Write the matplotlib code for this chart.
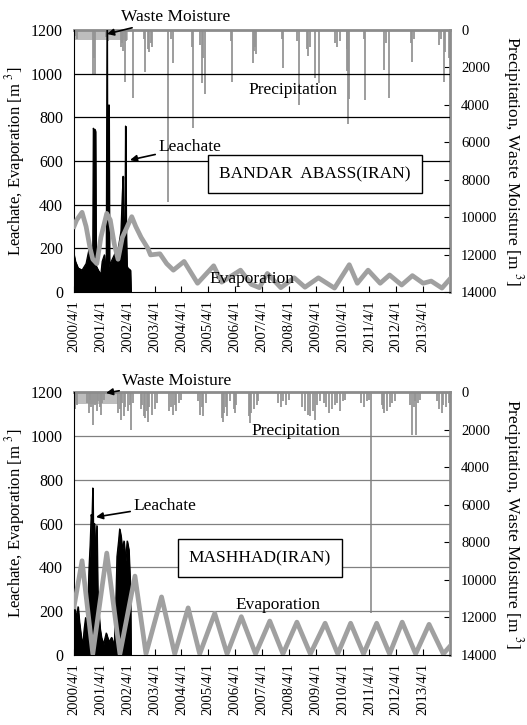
import matplotlib
matplotlib.use("Agg")
import matplotlib.pyplot as plt

plt.rcParams['font.family'] = ['Liberation Serif', 'DejaVu Serif']
plt.rcParams['mathtext.fontset'] = 'stix'

# x values are years after 2000/4/1
tick_labels = ["2000/4/1", "2001/4/1", "2002/4/1", "2003/4/1", "2004/4/1", "2005/4/1",
               "2006/4/1", "2007/4/1", "2008/4/1", "2009/4/1", "2010/4/1", "2011/4/1",
               "2012/4/1", "2013/4/1"]

# ---- Bandar Abass ----
ba_evap_t = [0.0, 0.1, 0.3, 0.45, 0.6, 0.7, 0.85, 1.0, 1.22, 1.35, 1.5, 1.64, 1.8, 2.15, 2.3,
             2.5, 2.75, 2.85, 3.2, 3.45, 3.7, 4.1, 4.4, 4.6, 5.2, 5.5, 6.2, 6.6, 6.9, 7.2, 7.7,
             8.2, 8.6, 9.1, 9.7, 10.25, 10.55, 10.95, 11.4, 11.75, 12.2, 12.6, 13.0, 13.3, 13.7, 14.0]
ba_evap_v = [300, 330, 365, 300, 200, 150, 130, 250, 360, 330, 220, 150, 250, 345, 300,
             250, 200, 170, 175, 130, 100, 140, 80, 40, 120, 45, 100, 35, 20, 85, 20,
             65, 22, 65, 18, 125, 40, 100, 40, 78, 32, 75, 40, 50, 18, 60]

ba_leach_t = [0.0, 0.05, 0.15, 0.3, 0.45, 0.55, 0.65, 0.7, 0.72, 0.74, 0.78, 0.8, 0.82, 0.9,
              1.0, 1.05, 1.13, 1.2, 1.23, 1.25, 1.27, 1.29, 1.3, 1.32, 1.35, 1.5, 1.65, 1.75,
              1.8, 1.83, 1.86, 1.9, 1.92, 1.94, 1.97, 2.0, 2.1, 2.12]
ba_leach_v = [170, 140, 110, 100, 130, 190, 160, 200, 750, 740, 745, 735, 120, 100,
              80, 140, 170, 60, 1215, 60, 100, 120, 857, 140, 130, 170, 200, 280,
              450, 530, 200, 350, 760, 300, 120, 110, 100, 0]

ba_prec_t = [0.05, 0.1, 0.72, 0.76, 0.78, 1.2, 1.28, 1.75, 1.8, 1.83, 1.9, 1.95, 2.2, 2.6, 2.64,
             2.75, 2.8, 2.85, 2.9, 3.5, 3.62, 3.68, 4.4, 4.43, 4.7, 4.76, 4.82, 4.87, 5.85, 5.9,
             6.66, 6.7, 6.74, 6.79, 7.75, 7.78, 8.3, 8.38, 8.66, 8.72, 8.77, 8.96, 9.12, 9.7,
             9.8, 9.9, 10.15, 10.18, 10.2, 10.23, 10.78, 10.82, 11.54, 11.6, 11.72, 12.55, 12.6,
             12.65, 13.6, 13.65, 13.77, 13.8, 13.95]
ba_prec_v = [300, 500, 2350, 1500, 2350, 400, 600, 900, 700, 1100, 2760, 600, 3620, 500, 2220,
             1000, 1200, 700, 900, 9170, 500, 1780, 900, 5240, 800, 2850, 1500, 3440, 600, 2760,
             1780, 1100, 900, 1280, 500, 2030, 600, 4000, 1000, 1400, 900, 2560, 2850, 700,
             900, 600, 1000, 2200, 5000, 3700, 500, 3740, 2140, 700, 3620, 700, 1690,
             500, 800, 500, 2760, 1200, 1500]

ba_moist_end = 2.02
ba_moist_v = 530

# ---- Mashhad ----
ma_evap_t = [0.0, 0.3, 0.7, 1.22, 1.71, 2.27, 2.68, 3.26, 3.75, 4.25, 4.68, 5.24, 5.7, 6.23,
             6.76, 7.29, 7.78, 8.3, 8.8, 9.35, 9.82, 10.3, 10.78, 11.27, 11.75, 12.22, 12.72,
             13.22, 13.75, 14.0]
ma_evap_v = [220, 430, 5, 465, 5, 360, 5, 265, 5, 215, 5, 190, 5, 175,
             5, 155, 5, 150, 5, 145, 5, 145, 5, 145, 5, 150, 5,
             140, 5, 40]

ma_leach_t = [0.0, 0.02, 0.05, 0.1, 0.15, 0.2, 0.27, 0.33, 0.38, 0.43, 0.48, 0.52, 0.56, 0.6,
              0.64, 0.67, 0.7, 0.72, 0.76, 0.8, 0.85, 0.88, 0.92, 0.97, 1.02, 1.1, 1.2, 1.3,
              1.4, 1.5, 1.56, 1.6, 1.66, 1.7, 1.75, 1.8, 1.86, 1.92, 1.98, 2.04, 2.1, 2.12]
ma_leach_v = [150, 250, 200, 170, 220, 150, 80, 50, 120, 170, 100, 250, 400, 500,
              640, 620, 762, 500, 600, 450, 590, 300, 200, 120, 80, 50, 100, 60,
              80, 40, 250, 450, 520, 575, 540, 480, 520, 430, 520, 480, 300, 0]

ma_prec_t = [0.02, 0.05, 0.08, 0.12, 0.5, 0.55, 0.6, 0.65, 0.72, 0.78, 0.85, 0.9, 0.95, 1.0,
             1.05, 1.1, 1.65, 1.7, 1.75, 1.8, 1.85, 1.9, 2.0, 2.08, 2.14, 2.2, 2.5, 2.55, 2.6,
             2.65, 2.7, 2.75, 2.8, 2.9, 3.0, 3.1, 3.55, 3.62, 3.68, 3.75, 3.8, 3.9, 4.0, 4.6,
             4.7, 4.75, 4.8, 4.9, 5.5, 5.55, 5.6, 5.65, 5.7, 5.8, 5.95, 6.0, 6.05, 6.5, 6.55,
             6.6, 6.7, 6.8, 6.85, 7.6, 7.7, 7.8, 7.9, 8.0, 8.5, 8.6, 8.7, 8.8, 8.9, 8.96, 9.05,
             9.15, 9.3, 9.4, 9.5, 9.6, 9.7, 9.8, 9.9, 10.0, 10.1, 10.7, 10.8, 10.9, 11.0, 11.07,
             11.45, 11.5, 11.55, 11.65, 11.75, 11.85, 11.95, 12.5, 12.6, 12.65, 12.7, 12.72,
             12.8, 12.9, 13.5, 13.6, 13.7, 13.75, 13.85, 13.95]
ma_prec_v = [500, 900, 400, 700, 600, 1100, 400, 800, 1760, 700, 1000, 500, 800, 1200,
             600, 400, 1100, 900, 1500, 600, 1300, 800, 1000, 700, 2020, 600, 900, 700, 1300,
             1400, 1000, 1600, 800, 1200, 900, 600, 1000, 800, 1200, 700, 1000, 600, 400, 500,
             1200, 800, 1300, 600, 1400, 1600, 1100, 800, 1300, 500, 900, 1100, 700, 1300, 1650,
             1100, 900, 700, 500, 600, 800, 500, 700, 400, 800, 1000, 1200, 1300, 1000, 1500, 700,
             500, 600, 800, 1100, 900, 700, 600, 1000, 500, 400, 600, 800, 500, 400, 11760,
             700, 900, 1100, 1000, 800, 600, 500, 700, 2290, 800, 500, 2290,
             600, 400, 500, 900, 1100, 700, 800, 600]

ma_moist_end = 1.65
ma_moist_v = 650

W, H = 527, 725
fig = plt.figure(figsize=(W / 100, H / 100), dpi=100)


def panel(top, bottom, evap_t, evap_v, leach_t, leach_v, prec_t, prec_v, moist_end, moist_v,
          grid_color, notes):
    ax = fig.add_axes([74 / W, 1 - bottom / H, (450 - 74) / W, (bottom - top) / H])
    ax2 = ax.twinx()
    ax.set_zorder(ax2.get_zorder() + 1)
    ax.patch.set_visible(False)

    # right axis: precipitation and waste moisture, hanging from the top
    ax2.fill_between([0, moist_end], 0, moist_v, color='#bdbdbd', lw=0)
    ax2.vlines(prec_t, 0, prec_v, color='#959595', lw=1.3)
    ax2.set_ylim(14000, 0)
    ax2.set_yticks(range(0, 14001, 2000))
    ax2.tick_params(axis='y', direction='in', length=4, labelsize=10.5, pad=8)
    ax2.set_ylabel('Precipitation, Waste Moisture [m $^{3}$]', fontsize=12.5, rotation=270,
                   labelpad=20)

    # left axis: leachate and evaporation
    for y in range(200, 1001, 200):
        ax.axhline(y, color=grid_color, lw=0.9, zorder=0)
    ax.fill_between(leach_t, 0, leach_v, color='black', lw=0.8, zorder=2)
    ax.plot(leach_t, leach_v, color='black', lw=0.9, zorder=2)
    ax.plot(evap_t, evap_v, color='#a0a0a0', lw=3.4, zorder=3)
    ax.set_xlim(0, 14)
    ax.set_ylim(0, 1200)
    ax.set_yticks(range(0, 1201, 200))
    ax.set_xticks(range(len(tick_labels)))
    ax.set_xticklabels(tick_labels, rotation=90, fontsize=10.5)
    ax.tick_params(axis='x', direction='in', length=4, pad=6)
    ax.tick_params(axis='y', length=0, labelsize=11.5, pad=8)
    ax.set_ylabel('Leachate, Evaporation [m $^{3}$]', fontsize=12, labelpad=3)

    for s in ('top', 'right'):
        ax.spines[s].set_visible(False)
    ax2.spines['top'].set_color('#8c8c8c')
    ax2.spines['top'].set_linewidth(2)
    ax2.spines['right'].set_color('#8c8c8c')
    ax2.spines['right'].set_linewidth(2)
    ax2.spines['left'].set_visible(False)
    ax2.spines['bottom'].set_visible(False)

    # annotations (positions in figure pixels from left/top)
    def pt(px, py):
        return ((px - 74) / (450 - 74), (bottom - py) / (bottom - top))

    tr = ax.transAxes
    arrow = dict(arrowstyle='-|>', color='black', lw=1.2, shrinkA=0, shrinkB=0,
                 mutation_scale=10)
    wm_txt, wm_tip, pr_xy, le_txt, le_tip, box_xy, box_txt, ev_xy = notes
    ax.annotate('Waste Moisture', xy=pt(*wm_tip), xycoords=tr, xytext=pt(*wm_txt),
                textcoords=tr, fontsize=12.5, va='center', ha='left', arrowprops=arrow)
    ax.text(*pt(*pr_xy), 'Precipitation', transform=tr, fontsize=12.5, ha='center',
            va='center', zorder=5)
    ax.annotate('Leachate', xy=pt(*le_tip), xycoords=tr, xytext=pt(*le_txt),
                textcoords=tr, fontsize=12.5, va='center', ha='left', arrowprops=arrow)
    ax.text(*pt(*box_xy), box_txt, transform=tr, fontsize=12.5, ha='center', va='center',
            zorder=6, bbox=dict(boxstyle='square,pad=0.65', fc='white', ec='black', lw=1))
    ax.text(*pt(*ev_xy), 'Evaporation', transform=tr, fontsize=12.5, ha='center',
            va='center', zorder=5)
    return ax


panel(30, 292, ba_evap_t, ba_evap_v, ba_leach_t, ba_leach_v, ba_prec_t, ba_prec_v,
      ba_moist_end, ba_moist_v, 'black',
      [(121, 17), (107, 34), (293, 90), (158, 147), (130, 160), (315, 174),
       'BANDAR  ABASS(IRAN)', (252, 279)])
panel(392, 655, ma_evap_t, ma_evap_v, ma_leach_t, ma_leach_v, ma_prec_t, ma_prec_v,
      ma_moist_end, ma_moist_v, '#808080',
      [(122, 381), (106, 393), (296, 431), (133, 506), (96, 517), (260, 558),
       'MASHHAD(IRAN)', (278, 605)])

fig.savefig('out.png', dpi=100)
